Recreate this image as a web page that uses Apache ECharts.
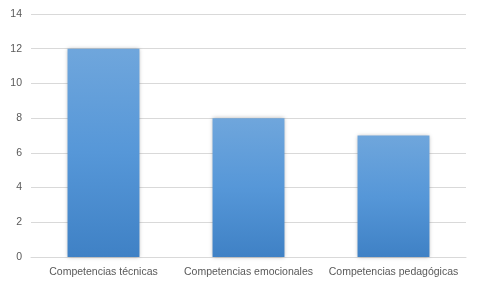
<!DOCTYPE html>
<html>
<head>
<meta charset="utf-8">
<script src="https://cdn.jsdelivr.net/npm/echarts@6/dist/echarts.min.js"></script>
<style>
  html, body { margin: 0; padding: 0; background: #fff; }
  #chart { width: 480px; height: 288px; }
</style>
</head>
<body>
<div id="chart"></div>
<script>
// datos
const categories = ['Competencias técnicas', 'Competencias emocionales', 'Competencias pedagógicas'];
const values = [12, 8, 7];
const yTicks = [0, 2, 4, 6, 8, 10, 12, 14];

const chart = echarts.init(document.getElementById('chart'));

chart.setOption({
  animation: false,
  grid: { left: 31, right: 14, top: 14, bottom: 31, containLabel: false },
  xAxis: {
    type: 'category',
    data: categories,
    axisLine: { show: true, lineStyle: { color: '#d9d9d9', width: 1 } },
    axisTick: { show: false },
    axisLabel: {
      interval: 0,
      hideOverlap: false,
      color: '#595959',
      fontFamily: 'Liberation Sans, Arial, sans-serif',
      fontSize: 10.5,
      margin: 10
    }
  },
  yAxis: {
    type: 'value',
    min: yTicks[0],
    max: yTicks[yTicks.length - 1],
    interval: 2,
    axisLine: { show: false },
    axisTick: { show: false },
    splitLine: { lineStyle: { color: '#d9d9d9', width: 1 } },
    axisLabel: {
      color: '#595959',
      fontFamily: 'Liberation Sans, Arial, sans-serif',
      fontSize: 10.5,
      margin: 9
    }
  },
  series: [{
    type: 'bar',
    data: values,
    barWidth: '49.6%',
    itemStyle: {
      color: new echarts.graphic.LinearGradient(0, 0, 0, 1, [
        { offset: 0, color: '#6fa6dc' },
        { offset: 0.5, color: '#5697d8' },
        { offset: 1, color: '#3f81c5' }
      ]),
      shadowColor: 'rgba(0,0,0,0.3)',
      shadowBlur: 4,
      shadowOffsetX: 0,
      shadowOffsetY: 0
    }
  }]
});

window.onresize = function () {
  chart.resize();
};
</script>
</body>
</html>
